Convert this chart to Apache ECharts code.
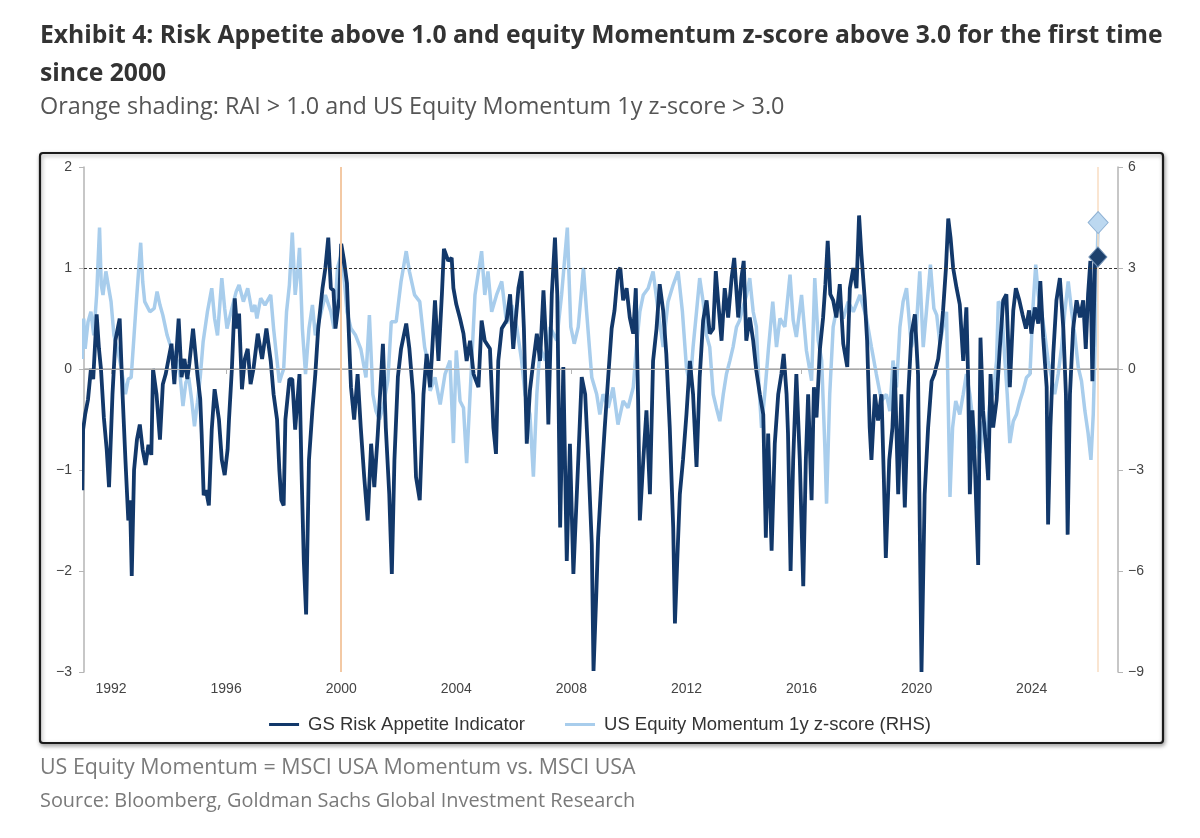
<!DOCTYPE html>
<html>
<head>
<meta charset="utf-8">
<script src="https://cdn.jsdelivr.net/npm/echarts@6/dist/echarts.min.js"></script>
<style>
  html, body { margin: 0; padding: 0; background: #fff; }
  #chart { width: 1200px; height: 838px; }
</style>
</head>
<body>
<div id="chart"></div>
<script>
// GS Risk Appetite Indicator (left axis)
const raiYears = [
  1991.0, 1991.03, 1991.1, 1991.2, 1991.3, 1991.38, 1991.5, 1991.58, 1991.65, 1991.75, 1991.85, 1991.93,
  1992.05, 1992.15, 1992.3, 1992.4, 1992.5, 1992.6, 1992.66, 1992.72, 1992.8, 1992.9, 1993.0, 1993.1,
  1993.2, 1993.3, 1993.4, 1993.46, 1993.58, 1993.7, 1993.8, 1993.9, 1994.0, 1994.1, 1994.2, 1994.35,
  1994.45, 1994.55, 1994.65, 1994.72, 1994.85, 1995.0, 1995.1, 1995.15, 1995.22, 1995.3, 1995.4, 1995.5,
  1995.6, 1995.75, 1995.85, 1995.95, 1996.05, 1996.1, 1996.2, 1996.3, 1996.38, 1996.45, 1996.55, 1996.65,
  1996.75, 1996.85, 1996.95, 1997.1, 1997.25, 1997.4, 1997.55, 1997.65, 1997.77, 1997.85, 1997.92, 1998.0,
  1998.06, 1998.2, 1998.3, 1998.4, 1998.55, 1998.62, 1998.7, 1998.78, 1998.88, 1999.0, 1999.1, 1999.2,
  1999.35, 1999.45, 1999.55, 1999.64, 1999.73, 1999.8, 1999.93, 2000.0, 2000.1, 2000.2, 2000.28, 2000.34,
  2000.45, 2000.57, 2000.68, 2000.8, 2000.92, 2001.04, 2001.15, 2001.27, 2001.45, 2001.55, 2001.67, 2001.76,
  2001.85, 2001.97, 2002.08, 2002.26, 2002.37, 2002.5, 2002.6, 2002.73, 2002.86, 2002.97, 2003.09, 2003.26,
  2003.38, 2003.5, 2003.57, 2003.72, 2003.84, 2003.9, 2004.0, 2004.13, 2004.25, 2004.36, 2004.48, 2004.6,
  2004.77, 2004.88, 2004.99, 2005.17, 2005.29, 2005.38, 2005.46, 2005.58, 2005.75, 2005.87, 2005.98, 2006.16,
  2006.27, 2006.35, 2006.45, 2006.56, 2006.68, 2006.8, 2006.91, 2007.03, 2007.14, 2007.2, 2007.32, 2007.43,
  2007.51, 2007.61, 2007.72, 2007.84, 2007.95, 2008.07, 2008.24, 2008.36, 2008.48, 2008.59, 2008.71, 2008.77,
  2008.87, 2008.93, 2009.05, 2009.16, 2009.28, 2009.4, 2009.5, 2009.62, 2009.7, 2009.8, 2009.92, 2010.03,
  2010.15, 2010.24, 2010.32, 2010.38, 2010.5, 2010.61, 2010.73, 2010.84, 2010.96, 2011.07, 2011.19, 2011.3,
  2011.42, 2011.54, 2011.6, 2011.68, 2011.77, 2011.88, 2012.0, 2012.12, 2012.23, 2012.35, 2012.46, 2012.58,
  2012.7, 2012.81, 2012.93, 2013.02, 2013.1, 2013.22, 2013.33, 2013.45, 2013.57, 2013.66, 2013.8, 2013.91,
  2013.99, 2014.08, 2014.2, 2014.32, 2014.43, 2014.55, 2014.67, 2014.76, 2014.84, 2014.96, 2015.07, 2015.19,
  2015.3, 2015.38, 2015.48, 2015.53, 2015.62, 2015.71, 2015.82, 2015.94, 2016.06, 2016.15, 2016.23, 2016.35,
  2016.43, 2016.52, 2016.64, 2016.75, 2016.83, 2016.91, 2017.0, 2017.1, 2017.21, 2017.33, 2017.45, 2017.59,
  2017.68, 2017.8, 2017.91, 2018.0, 2018.08, 2018.2, 2018.28, 2018.37, 2018.43, 2018.55, 2018.66, 2018.78,
  2018.86, 2018.93, 2019.05, 2019.16, 2019.24, 2019.36, 2019.47, 2019.59, 2019.71, 2019.82, 2019.94, 2020.05,
  2020.11, 2020.17, 2020.28, 2020.4, 2020.52, 2020.62, 2020.75, 2020.85, 2020.92, 2021.02, 2021.1, 2021.18,
  2021.27, 2021.39, 2021.5, 2021.62, 2021.73, 2021.79, 2021.85, 2021.94, 2022.02, 2022.14, 2022.22, 2022.31,
  2022.43, 2022.49, 2022.57, 2022.66, 2022.78, 2022.89, 2023.01, 2023.12, 2023.24, 2023.36, 2023.45, 2023.57,
  2023.68, 2023.8, 2023.91, 2023.99, 2024.11, 2024.23, 2024.3, 2024.4, 2024.52, 2024.57, 2024.65, 2024.75,
  2024.86, 2024.98, 2025.1, 2025.19, 2025.25, 2025.33, 2025.44, 2025.56, 2025.68, 2025.79, 2025.88, 2025.96,
  2026.04, 2026.11, 2026.2, 2026.3
];
const raiValues = [
  -1.2, -0.6, -0.45, -0.3, 0.0, -0.1, 0.54, 0.2, 0.0, -0.48, -0.8, -1.17,
  -0.25, 0.28, 0.5, -0.25, -0.9, -1.5, -1.3, -2.05, -1.0, -0.7, -0.55, -0.8,
  -0.95, -0.75, -0.85, 0.0, -0.25, -0.7, -0.15, -0.05, 0.1, 0.25, -0.15, 0.5,
  -0.08, 0.1, -0.1, 0.05, 0.4, -0.05, -0.3, -0.65, -1.25, -1.2, -1.35, -0.6,
  -0.2, -0.5, -0.9, -1.05, -0.8, -0.5, 0.0, 0.7, 0.4, 0.55, -0.2, 0.1,
  0.2, -0.15, 0.0, 0.35, 0.1, 0.4, 0.08, -0.25, -0.5, -1.0, -1.3, -1.35,
  -0.5, -0.1, -0.1, -0.6, -0.05, -1.0, -1.9, -2.43, -0.9, -0.4, -0.05, 0.4,
  0.8, 1.0, 1.3, 0.8, 0.78, 0.4, 0.7, 1.24, 1.07, 0.85, 0.25, -0.18,
  -0.5, -0.05, -0.58, -1.07, -1.5, -0.74, -1.17, -0.65, 0.25, -0.58, -1.24, -2.03,
  -0.9, -0.08, 0.2, 0.45, 0.2, -0.25, -1.07, -1.3, -0.25, 0.15, -0.18, 0.68,
  0.08, 0.74, 1.19, 1.07, 1.1, 0.8, 0.64, 0.5, 0.35, 0.08, 0.28, -0.05,
  -0.18, 0.48, 0.28, 0.2, -0.58, -0.84, 0.08, 0.4, 0.48, 0.74, 0.2, 0.8,
  0.97, 0.4, -0.74, -0.21, 0.08, 0.35, 0.08, 0.78, 0.15, -0.55, 0.74, 1.3,
  0.74, -1.57, 0.02, -1.9, -0.74, -2.03, -0.9, -0.08, -0.25, -0.9, -1.74, -2.99,
  -2.2, -1.67, -1.07, -0.58, -0.08, 0.4, 0.58, 0.97, 1.0, 0.68, 0.8, 0.51,
  0.35, 0.8, -0.31, -1.5, -0.9, -0.41, -1.24, 0.08, 0.4, 0.84, 0.58, 0.15,
  -0.58, -1.57, -2.52, -1.9, -1.24, -0.9, -0.45, 0.08, -0.25, -0.97, -0.08, 0.48,
  0.68, 0.35, 0.4, 0.97, 0.68, 0.28, 0.8, 0.51, 0.9, 1.1, 0.51, 0.9,
  1.07, 0.28, 0.51, 0.28, -0.02, -0.25, -0.45, -1.67, -0.64, -1.8, -0.74, -0.25,
  -0.05, 0.15, -0.25, -0.64, -2.0, -0.9, -0.05, -0.9, -2.15, -0.9, -0.25, -1.3,
  -0.18, -0.48, 0.2, 0.51, 0.84, 1.27, 0.74, 0.68, 0.51, 0.84, 0.25, 0.02,
  0.8, 1.0, 0.8, 1.52, 1.14, 0.68, 0.28, -0.58, -0.9, -0.25, -0.51, -0.25,
  -1.07, -1.87, -0.9, -0.58, 0.02, -1.24, -0.25, -1.37, -0.25, 0.35, 0.54, -0.05,
  -1.57, -3.0, -1.24, -0.58, -0.12, -0.05, 0.1, 0.35, 0.58, 1.0, 1.49, 1.3,
  1.0, 0.8, 0.64, 0.08, 0.61, -0.08, -1.24, -0.41, -0.9, -1.94, 0.31, -0.41,
  -0.84, -1.1, -0.05, -0.58, -0.31, 0.2, 0.68, 0.74, -0.18, 0.58, 0.8, 0.68,
  0.54, 0.4, 0.58, 0.35, 0.61, 0.45, 0.87, 0.31, -0.18, -1.54, -0.58, 0.15,
  0.68, 0.9, 0.4, -0.25, -1.64, -0.25, 0.4, 0.68, 0.51, 0.68, 0.2, 0.74,
  1.07, -0.12, 1.04, 1.11
];

// US Equity Momentum 1y z-score (right axis)
const momYears = [
  1991.0, 1991.05, 1991.1, 1991.2, 1991.3, 1991.4, 1991.5, 1991.6, 1991.66, 1991.72, 1991.82, 1991.9,
  1992.0, 1992.1, 1992.22, 1992.35, 1992.5, 1992.6, 1992.7, 1992.8, 1992.88, 1993.03, 1993.1, 1993.17,
  1993.35, 1993.5, 1993.6, 1993.7, 1993.8, 1993.95, 1994.1, 1994.3, 1994.4, 1994.5, 1994.6, 1994.7,
  1994.8, 1994.9, 1995.0, 1995.1, 1995.2, 1995.35, 1995.5, 1995.6, 1995.7, 1995.85, 1995.95, 1996.03,
  1996.2, 1996.35, 1996.45, 1996.6, 1996.75, 1996.9, 1997.0, 1997.07, 1997.2, 1997.35, 1997.55, 1997.65,
  1997.75, 1997.85, 1997.92, 1998.0, 1998.1, 1998.2, 1998.3, 1998.4, 1998.5, 1998.55, 1998.65, 1998.76,
  1998.88, 1999.0, 1999.1, 1999.28, 1999.45, 1999.64, 1999.75, 1999.87, 2000.0, 2000.1, 2000.2, 2000.34,
  2000.5, 2000.68, 2000.86, 2000.98, 2001.1, 2001.21, 2001.33, 2001.45, 2001.62, 2001.74, 2001.91, 2002.08,
  2002.26, 2002.37, 2002.55, 2002.73, 2002.9, 2003.0, 2003.09, 2003.26, 2003.44, 2003.61, 2003.78, 2003.9,
  2004.0, 2004.13, 2004.25, 2004.36, 2004.48, 2004.65, 2004.88, 2004.99, 2005.1, 2005.23, 2005.4, 2005.58,
  2005.75, 2005.93, 2006.1, 2006.27, 2006.39, 2006.56, 2006.68, 2006.8, 2006.91, 2007.09, 2007.26, 2007.49,
  2007.66, 2007.78, 2007.86, 2007.98, 2008.1, 2008.24, 2008.42, 2008.53, 2008.71, 2008.88, 2008.99, 2009.1,
  2009.28, 2009.45, 2009.62, 2009.8, 2009.97, 2010.15, 2010.26, 2010.38, 2010.5, 2010.67, 2010.84, 2011.02,
  2011.19, 2011.36, 2011.54, 2011.71, 2011.86, 2012.0, 2012.12, 2012.23, 2012.35, 2012.46, 2012.58, 2012.7,
  2012.81, 2012.93, 2013.04, 2013.16, 2013.28, 2013.39, 2013.51, 2013.62, 2013.74, 2013.85, 2013.97, 2014.09,
  2014.2, 2014.32, 2014.43, 2014.52, 2014.61, 2014.72, 2014.85, 2015.0, 2015.13, 2015.25, 2015.42, 2015.6,
  2015.71, 2015.82, 2016.0, 2016.17, 2016.35, 2016.46, 2016.58, 2016.7, 2016.81, 2016.87, 2016.98, 2017.1,
  2017.27, 2017.45, 2017.62, 2017.8, 2018.03, 2018.26, 2018.43, 2018.6, 2018.78, 2018.95, 2019.07, 2019.18,
  2019.3, 2019.42, 2019.53, 2019.65, 2019.82, 2019.99, 2020.11, 2020.23, 2020.34, 2020.48, 2020.6, 2020.7,
  2020.81, 2020.92, 2021.04, 2021.16, 2021.25, 2021.36, 2021.5, 2021.62, 2021.73, 2021.85, 2021.97, 2022.08,
  2022.2, 2022.31, 2022.43, 2022.55, 2022.66, 2022.78, 2022.84, 2022.95, 2023.07, 2023.15, 2023.24, 2023.36,
  2023.47, 2023.59, 2023.7, 2023.82, 2023.94, 2024.05, 2024.14, 2024.23, 2024.34, 2024.46, 2024.57, 2024.69,
  2024.8, 2024.92, 2025.04, 2025.15, 2025.27, 2025.39, 2025.5, 2025.62, 2025.73, 2025.85, 2025.96, 2026.06,
  2026.14, 2026.22, 2026.28, 2026.31
];
const momValues = [
  0.3, 1.5, 0.6, 1.4, 1.7, 1.0, 2.2, 4.2, 2.5, 2.2, 2.9, 2.5,
  2.0, 1.0, 0.6, 0.05, -0.75, -0.3, -0.25, 1.0, 2.0, 3.75, 2.6, 2.0,
  1.7, 1.8, 2.3, 1.9, 1.6, 1.0, 0.6, 0.25, -0.2, -1.1, -0.4, -0.25,
  -0.9, -1.7, -1.0, -0.25, 0.8, 1.7, 2.4, 1.5, 1.0, 2.7, 1.8, 1.2,
  1.8, 2.3, 2.5, 2.0, 2.4, 1.7, 1.9, 1.5, 2.1, 1.9, 2.2, 1.2,
  0.4, -0.4, -0.2, 0.0, 1.7, 2.5, 4.05, 2.2, 3.0, 3.6, 1.2, -0.15,
  1.2, 1.9, 1.0, 1.6, 2.2, 1.7, 1.2, 3.0, 3.4, 2.7, 1.7, 1.2,
  1.0, 0.6, -0.25, 1.6, -0.75, -1.25, -1.5, -1.15, -0.35, 1.4, 1.4, 2.6,
  3.5, 2.9, 2.2, 2.0, 0.65, 0.25, -0.65, -0.25, -1.05, -0.15, 0.25, -2.2,
  0.55, -0.95, -1.15, -2.8, -0.75, 2.2, 3.5, 2.2, 2.9, 1.7, 2.2, 2.6,
  1.35, 1.9, 1.25, 0.25, -0.75, -1.35, -3.2, -0.75, 0.65, 0.25, 1.25, 0.85,
  2.2, 3.4, 4.2, 1.25, 0.75, 1.25, 3.0, 1.7, -0.25, -0.75, -1.35, -0.75,
  -1.15, -0.55, -1.65, -0.95, -1.15, -0.55, 0.65, 1.7, 2.2, 2.4, 2.9, 1.7,
  0.65, 2.0, 2.5, 2.9, 1.7, 0.05, -0.55, 0.65, 1.7, 2.7, 2.0, 1.0,
  0.65, -0.75, -1.15, -1.55, -0.75, -0.15, 0.25, 0.65, 1.25, 1.45, 1.85, 2.2,
  2.7, 1.7, 1.25, -0.5, -1.75, -0.75, 0.6, 2.0, 0.65, 1.5, 1.25, 2.8,
  1.45, 0.95, 2.2, 0.55, -0.35, 2.7, 0.85, 0.25, -2.3, -4.0, -0.75, 1.25,
  2.0, 1.5, 2.0, 1.7, 2.2, 1.5, 0.65, -0.15, -0.95, -0.75, -1.25, 0.25,
  -0.55, 1.25, 2.0, 2.4, 0.65, 1.25, 2.9, 0.65, 1.7, 3.1, 1.8, 1.6,
  0.75, 1.25, 1.7, -3.8, -1.75, -0.95, -1.35, -0.75, -0.15, -0.75, -1.65, -2.2,
  -2.5, -1.55, -2.0, -0.95, -0.75, 0.25, 2.0, 1.9, 0.25, -0.75, -2.2, -1.55,
  -1.35, -0.95, -0.65, -0.25, -0.15, 1.9, 3.1, 2.2, 1.7, 1.0, 0.25, -0.25,
  -0.75, -0.15, 0.65, 1.7, 2.6, 1.7, 1.0, 0.05, -0.35, -1.25, -1.9, -2.7,
  -1.35, 1.25, 3.4, 4.35
];

// x-axis ticks and the weeks with RAI > 1.0 and momentum z-score > 3.0
const yearTicks = [1992, 1996, 2000, 2004, 2008, 2012, 2016, 2020, 2024];
const shadedYears = [2000.0, 2026.3];

const raiData = raiYears.map((y, i) => [y, raiValues[i]]);
const momData = momYears.map((y, i) => [y, momValues[i]]);
const raiLast = raiData[raiData.length - 1];
const momLast = momData[momData.length - 1];

const DARK = '#12386a';
const LIGHT = '#a8cdec';
const AXIS_FONT = 'Liberation Sans, Arial, sans-serif';
const TEXT_FONT = 'Open Sans, Noto Sans, sans-serif';

function minus(v) {
  return String(v).replace('-', '\u2212');
}

const chart = echarts.init(document.getElementById('chart'));

const option = {
  backgroundColor: '#ffffff',
  animation: false,
  graphic: [
    {
      type: 'rect',
      z: -10,
      shape: { x: 40, y: 153, width: 1123, height: 590, r: 3 },
      style: {
        fill: '#ffffff', stroke: '#1a1a1a', lineWidth: 2.2,
        shadowBlur: 4, shadowColor: 'rgba(0,0,0,0.35)', shadowOffsetX: 1, shadowOffsetY: 2
      }
    },
    {
      type: 'text', x: 40, y: 36,
      style: {
        text: 'Exhibit 4: Risk Appetite above 1.0 and equity Momentum z-score above 3.0 for the first time',
        font: 'bold 24.7px ' + TEXT_FONT, fill: '#333333', textVerticalAlign: 'middle'
      }
    },
    {
      type: 'text', x: 40, y: 74,
      style: { text: 'since 2000', font: 'bold 24.7px ' + TEXT_FONT, fill: '#333333', textVerticalAlign: 'middle' }
    },
    {
      type: 'text', x: 40, y: 107,
      style: {
        text: 'Orange shading: RAI > 1.0 and US Equity Momentum 1y z-score > 3.0',
        font: '23.4px ' + TEXT_FONT, fill: '#555555', textVerticalAlign: 'middle'
      }
    },
    {
      type: 'text', x: 40, y: 768,
      style: {
        text: 'US Equity Momentum = MSCI USA Momentum vs. MSCI USA',
        font: '21.4px ' + TEXT_FONT, fill: '#7a7a7a', textVerticalAlign: 'middle'
      }
    },
    {
      type: 'text', x: 40, y: 801,
      style: {
        text: 'Source: Bloomberg, Goldman Sachs Global Investment Research',
        font: '19.9px ' + TEXT_FONT, fill: '#7a7a7a', textVerticalAlign: 'middle'
      }
    }
  ],
  legend: {
    top: 710,
    left: 'center',
    itemGap: 40,
    itemWidth: 30,
    itemHeight: 3,
    icon: 'rect',
    textStyle: { fontFamily: AXIS_FONT, fontSize: 18.5, color: '#333333', padding: [0, 0, 0, 4] },
    data: ['GS Risk Appetite Indicator', 'US Equity Momentum 1y z-score (RHS)']
  },
  grid: { left: 84, right: 82, top: 167, bottom: 166 },
  xAxis: {
    type: 'value',
    min: 1991.06,
    max: 2027.0,
    splitLine: { show: false },
    axisLine: { lineStyle: { color: '#b5b5b5', width: 1.5 } },
    axisTick: { customValues: yearTicks, length: 5, lineStyle: { color: '#b5b5b5' } },
    axisLabel: {
      customValues: yearTicks,
      margin: 10,
      fontFamily: AXIS_FONT, fontSize: 14, color: '#444444',
      formatter: v => String(Math.round(v))
    }
  },
  yAxis: [
    {
      type: 'value', min: -3, max: 2, interval: 1,
      splitLine: { show: false },
      axisLine: { show: true, lineStyle: { color: '#b5b5b5', width: 1.5 } },
      axisTick: { show: true, length: 5, lineStyle: { color: '#b5b5b5' } },
      axisLabel: { margin: 12, fontFamily: AXIS_FONT, fontSize: 14, color: '#444444', formatter: minus }
    },
    {
      type: 'value', min: -9, max: 6, interval: 3, position: 'right',
      splitLine: { show: false },
      axisLine: { show: true, lineStyle: { color: '#b5b5b5', width: 1.5 } },
      axisTick: { show: true, length: 5, lineStyle: { color: '#b5b5b5' } },
      axisLabel: { margin: 10, fontFamily: AXIS_FONT, fontSize: 14, color: '#444444', formatter: minus }
    }
  ],
  series: [
    {
      name: 'US Equity Momentum 1y z-score (RHS)',
      type: 'line',
      yAxisIndex: 1,
      z: 2,
      showSymbol: false,
      data: momData,
      lineStyle: { color: LIGHT, width: 3.5 },
      itemStyle: { color: LIGHT },
      markLine: {
        silent: true,
        symbol: 'none',
        label: { show: false },
        data: [
          { yAxis: 0, lineStyle: { color: '#a8a8a8', width: 1, type: 'solid' } },
          { yAxis: 3, lineStyle: { color: '#333333', width: 1, type: [3, 2] } },
          { xAxis: shadedYears[0], lineStyle: { color: '#f3c9a4', width: 2, type: 'solid' } },
          { xAxis: shadedYears[1], lineStyle: { color: '#f8dcc2', width: 1.5, type: 'solid' } }
        ]
      },
      markPoint: {
        silent: true,
        symbol: 'diamond',
        symbolSize: [20, 22],
        label: { show: false },
        itemStyle: { color: '#bcd8f0', borderColor: '#8fb2d4', borderWidth: 1 },
        data: [{ coord: momLast }]
      }
    },
    {
      name: 'GS Risk Appetite Indicator',
      type: 'line',
      yAxisIndex: 0,
      z: 3,
      showSymbol: false,
      data: raiData,
      lineStyle: { color: DARK, width: 3.8 },
      itemStyle: { color: DARK },
      markPoint: {
        silent: true,
        symbol: 'diamond',
        symbolSize: [18, 20],
        label: { show: false },
        itemStyle: { color: '#1d416d', borderColor: '#6f8fb3', borderWidth: 1 },
        data: [{ coord: raiLast }]
      }
    }
  ]
};

chart.setOption(option);
</script>
</body>
</html>
